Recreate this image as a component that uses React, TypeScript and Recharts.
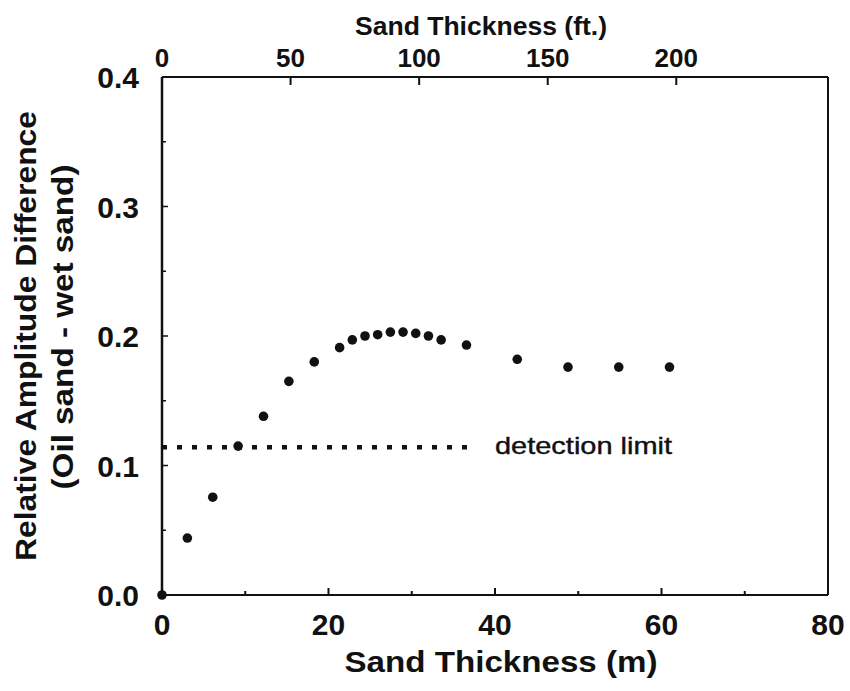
import React from "react";
import {
  Label,
  ReferenceLine,
  Scatter,
  ScatterChart,
  XAxis,
  YAxis,
} from "recharts";

// sand thickness of each model run, in feet, and the amplitude difference
const thicknessFt = [0, 10, 20, 30, 40, 50, 60, 70, 75, 80, 85, 90, 95, 100, 105, 110, 120, 140, 160, 180, 200];
const amplitude = [
  0, 0.044, 0.0755, 0.115, 0.138, 0.165, 0.18, 0.191, 0.197, 0.2, 0.201, 0.203, 0.203, 0.202, 0.2, 0.197,
  0.193, 0.182, 0.176, 0.176, 0.176,
];

const metreTicks = [0, 10, 20, 30, 40, 50, 60, 70, 80];
const footTicks = [0, 50, 100, 150, 200];
const ampTicks = [0, 0.05, 0.1, 0.15, 0.2, 0.25, 0.3, 0.35, 0.4];

const detectionLimit = 0.114;
const detectionEndM = 37.6;

const FT_TO_M = 0.3048;
const points = thicknessFt.map((ft, i) => ({ m: ft * FT_TO_M, ft, amp: amplitude[i] }));

const INK = "#111";
const FONT = '"Liberation Sans", Arial, Helvetica, sans-serif';

function BottomTick({ x, y, payload }: any) {
  const v = payload.value as number;
  const major = v % 20 === 0;
  return (
    <g>
      {v > 0 && v < 80 && <line x1={x} x2={x} y1={y} y2={y - (major ? 7 : 4)} stroke={INK} strokeWidth={2} />}
      {major && (
        <text x={x} y={y + 40} textAnchor="middle" fontSize={30} fontWeight="bold" fontFamily={FONT} fill={INK}>
          {v}
        </text>
      )}
    </g>
  );
}

function TopTick({ x, y, payload }: any) {
  const v = payload.value as number;
  return (
    <g>
      {v > 0 && <line x1={x} x2={x} y1={y} y2={y + 8} stroke={INK} strokeWidth={2} />}
      <text x={x} y={y - 10} textAnchor="middle" fontSize={26} fontWeight="bold" fontFamily={FONT} fill={INK}>
        {v}
      </text>
    </g>
  );
}

function LeftTick({ x, y, payload }: any) {
  const v = payload.value as number;
  const major = Math.round(v * 100) % 10 === 0;
  return (
    <g>
      {v > 0 && v < 0.4 && <line x1={x} x2={x + (major ? 6 : 4)} y1={y} y2={y} stroke={INK} strokeWidth={1.5} />}
      {major && (
        <text x={x - 23} y={y + 11} textAnchor="end" fontSize={30} fontWeight="bold" fontFamily={FONT} fill={INK}>
          {v.toFixed(1)}
        </text>
      )}
    </g>
  );
}

export default function App() {
  return (
    <div style={{ width: 850, height: 691, background: "#fff" }}>
      <style>{"body{margin:0}"}</style>
      <ScatterChart width={850} height={691} margin={{ top: 0, right: 22, bottom: 0, left: 0 }}>
        <XAxis
          xAxisId="m"
          dataKey="m"
          type="number"
          domain={[0, 80]}
          ticks={metreTicks}
          interval={0}
          height={96}
          tickSize={0}
          tickMargin={0}
          tick={<BottomTick />}
          axisLine={{ stroke: INK, strokeWidth: 2 }}
          tickLine={false}
        >
          <Label
            content={() => (
              <text x={501} y={672} textAnchor="middle" fontSize={29} fontWeight="bold" fontFamily={FONT} fill={INK} textLength={313} lengthAdjust="spacingAndGlyphs">
                Sand Thickness (m)
              </text>
            )}
          />
        </XAxis>
        <XAxis
          xAxisId="ft"
          dataKey="ft"
          orientation="top"
          type="number"
          domain={[0, 259]}
          ticks={footTicks}
          interval={0}
          height={77}
          tickSize={0}
          tickMargin={0}
          tick={<TopTick />}
          axisLine={{ stroke: INK, strokeWidth: 2 }}
          tickLine={false}
        >
          <Label
            content={() => (
              <text x={481} y={35} textAnchor="middle" fontSize={26} fontWeight="bold" fontFamily={FONT} fill={INK} textLength={252} lengthAdjust="spacingAndGlyphs">
                Sand Thickness (ft.)
              </text>
            )}
          />
        </XAxis>
        <YAxis
          dataKey="amp"
          type="number"
          domain={[0, 0.4]}
          ticks={ampTicks}
          interval={0}
          width={162}
          tickSize={0}
          tickMargin={0}
          tick={<LeftTick />}
          axisLine={{ stroke: INK, strokeWidth: 2.5 }}
          tickLine={false}
        >
          <Label
            content={() => (
              <g fontFamily={FONT} fontWeight="bold" fill={INK} fontSize={29}>
                <text x={36} y={336} textAnchor="middle" transform="rotate(-90 36 336)" textLength={450} lengthAdjust="spacingAndGlyphs">
                  Relative Amplitude Difference
                </text>
                <text x={73} y={327} textAnchor="middle" transform="rotate(-90 73 327)" textLength={325} lengthAdjust="spacingAndGlyphs">
                  (Oil sand - wet sand)
                </text>
              </g>
            )}
          />
        </YAxis>
        <ReferenceLine xAxisId="m" x={80} stroke={INK} strokeWidth={2} />
        <ReferenceLine
          xAxisId="m"
          segment={[
            { x: 0, y: detectionLimit },
            { x: detectionEndM, y: detectionLimit },
          ]}
          stroke={INK}
          strokeWidth={4.5}
          strokeDasharray="5 10"
          label={(props: any) => {
            const vb = props.viewBox || {};
            const x = (vb.x ?? 0) + (vb.width ?? 0) + 20;
            const y = (vb.y ?? 0) + 7;
            return (
              <text x={x} y={y} fontSize={24} fontFamily={FONT} fill={INK} stroke={INK} strokeWidth={0.4} textLength={177} lengthAdjust="spacingAndGlyphs">
                detection limit
              </text>
            );
          }}
        />
        {/* same runs on the feet axis, drawn invisibly so the top axis is kept */}
        <Scatter xAxisId="ft" data={points} isAnimationActive={false} shape={() => <g />} />
        <Scatter
          xAxisId="m"
          data={points}
          isAnimationActive={false}
          shape={(p: any) => <circle cx={p.cx} cy={p.cy} r={4.8} fill={INK} />}
        />
      </ScatterChart>
    </div>
  );
}
